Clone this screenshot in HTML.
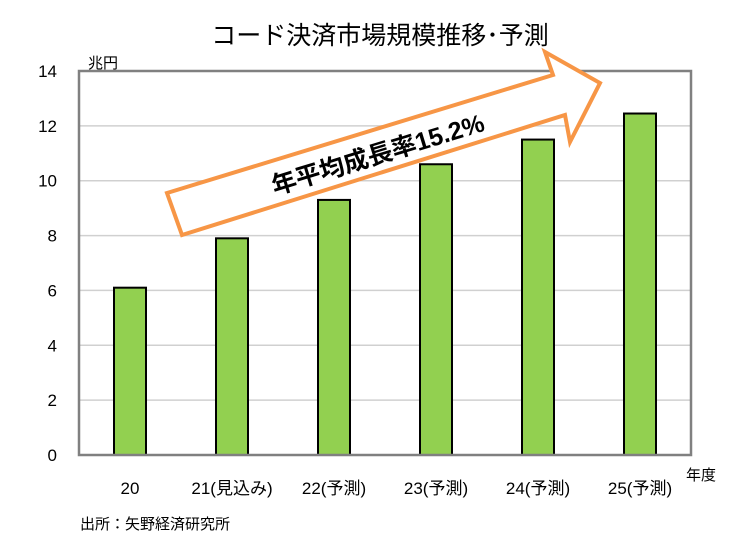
<!DOCTYPE html>
<html><head><meta charset="utf-8"><style>
body{margin:0;background:#fff;}
svg{display:block;font-family:"Liberation Sans","Noto Sans CJK JP",sans-serif;}
</style></head><body>
<svg width="750" height="546" viewBox="0 0 750 546">
<text x="380" y="44" font-size="25" text-anchor="middle" fill="#000">コード決済市場規模推移･予測</text>
<text x="88" y="68" font-size="15">兆円</text>
<g id="grid"></g>
<g id="bars"></g>
<rect x="79" y="71" width="612" height="384" fill="none" stroke="#808080" stroke-width="2.5"/>
<g id="labels"></g>
<text x="686" y="480" font-size="15">年度</text>
<text x="80" y="529" font-size="15">出所：矢野経済研究所</text>
<polygon points="167,193 553,75 545,52 600,83 570,142 565,115 182,235" fill="#fff" stroke="#f79646" stroke-width="4" stroke-linejoin="miter"/>
<text x="378" y="163" font-size="25" font-weight="bold" text-anchor="middle" transform="rotate(-17 378 155)">年平均成長率15.2%</text>
</svg>
<script>
const categories=["20","21(見込み)","22(予測)","23(予測)","24(予測)","25(予測)"];
const values=[6.1,7.9,9.3,10.6,11.5,12.45];
const yTicks=[0,2,4,6,8,10,12,14];
const NS="http://www.w3.org/2000/svg";
const L=79,R=691,T=71,B=455,yMax=14;
const y=v=>B-(B-T)*v/yMax;
const band=(R-L)/categories.length;
const x=i=>L+band*(i+0.5);
const grid=document.getElementById('grid'),bars=document.getElementById('bars'),labels=document.getElementById('labels');
yTicks.forEach(t=>{
  if(t>0&&t<yMax){const l=document.createElementNS(NS,'line');
  l.setAttribute('x1',L);l.setAttribute('x2',R);l.setAttribute('y1',y(t));l.setAttribute('y2',y(t));
  l.setAttribute('stroke','#d0d0d0');l.setAttribute('stroke-width','1.5');
  
  
  grid.appendChild(l);}
  const tx=document.createElementNS(NS,'text');
  tx.setAttribute('x',L-22);tx.setAttribute('y',y(t)+6);tx.setAttribute('font-size','17');tx.setAttribute('text-anchor','end');
  tx.textContent=t;
  
  
  labels.appendChild(tx);
});
const bw=32;
values.forEach((v,i)=>{
  const r=document.createElementNS(NS,'rect');
  r.setAttribute('x',x(i)-bw/2);r.setAttribute('y',y(v));r.setAttribute('width',bw);r.setAttribute('height',B-y(v));
  r.setAttribute('fill','#92d050');r.setAttribute('stroke','#000');r.setAttribute('stroke-width','2');
  
  
  bars.appendChild(r);
  const tx=document.createElementNS(NS,'text');
  tx.setAttribute('x',x(i));tx.setAttribute('y',494);tx.setAttribute('font-size','17');tx.setAttribute('text-anchor','middle');
  tx.textContent=categories[i];
  
  
  labels.appendChild(tx);
});
</script>
</body></html>
